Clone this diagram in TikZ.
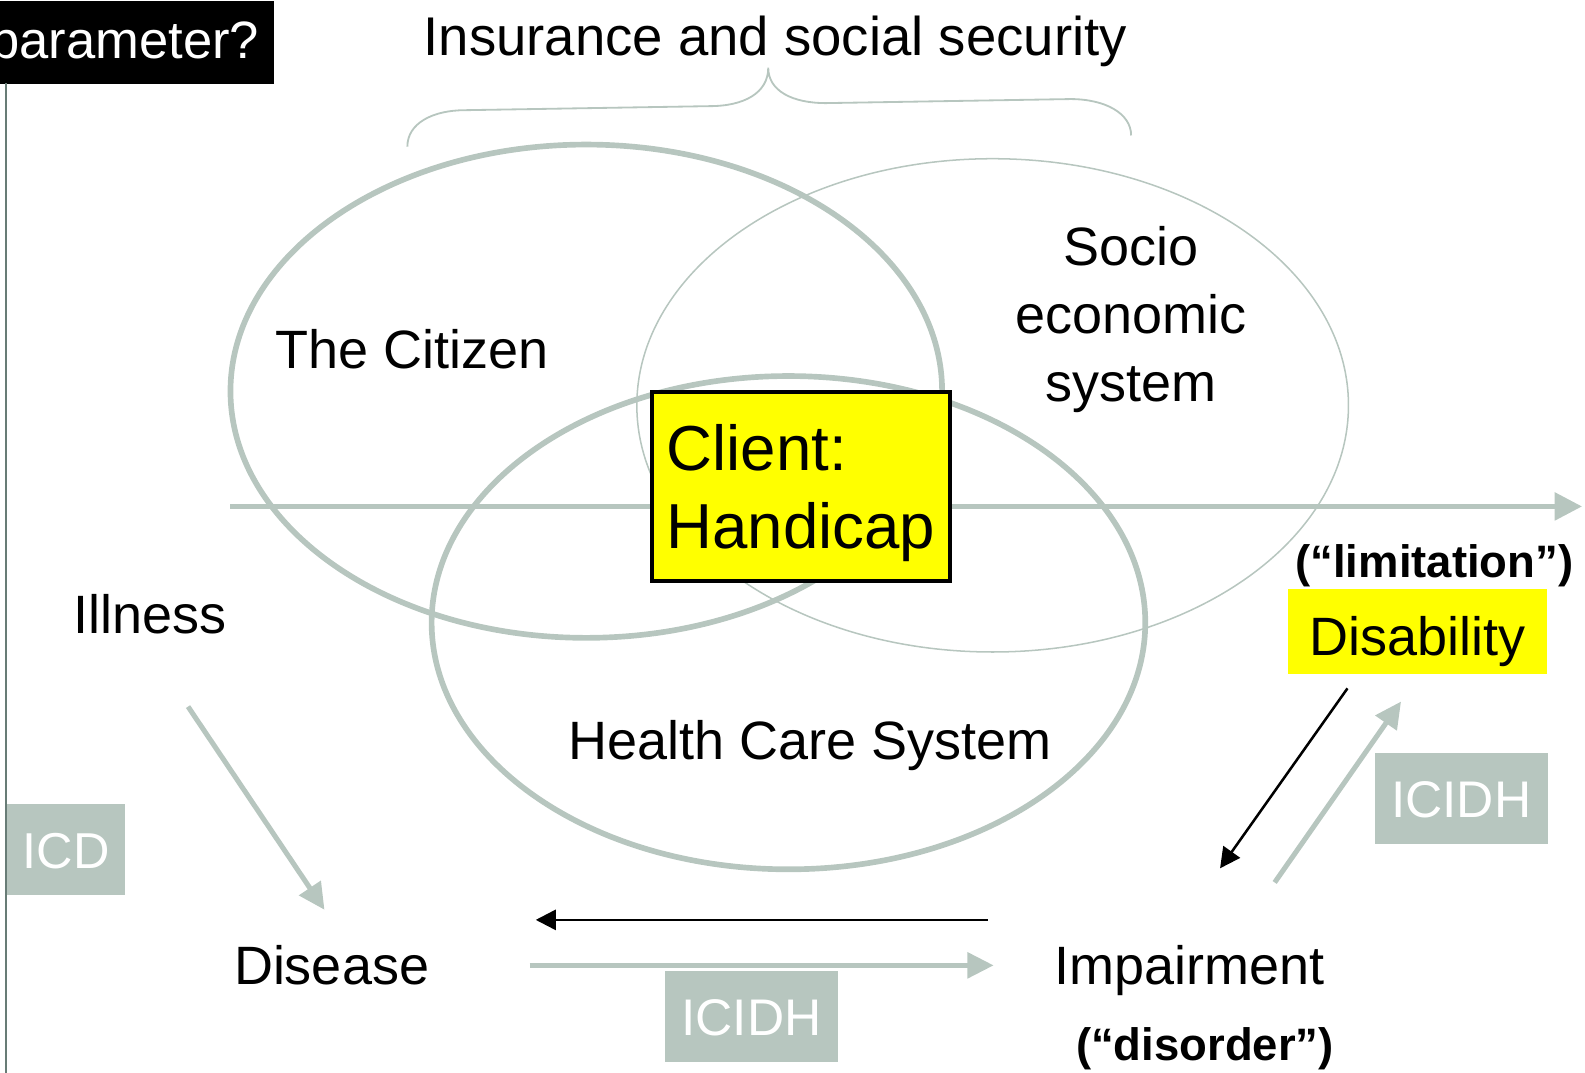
\documentclass[tikz,border=0pt]{standalone}
\usepackage{fontspec}                 % polices système
\setmainfont{Liberation Sans}
\usetikzlibrary{arrows.meta}          % pointes de flèches
\definecolor{sauge}{RGB}{183,198,191}
\definecolor{rail}{RGB}{104,124,118}
\definecolor{jaune}{RGB}{255,255,0}

\tikzset{
  txt/.style={inner sep=0,font=\fontsize{15.2}{19.2}\selectfont},
  petit/.style={inner sep=0,font=\fontsize{12.8}{15}\selectfont\bfseries},
  tag/.style={fill=sauge,text=white,inner sep=0,minimum height=9mm,text height=3.7mm,text depth=0pt,font=\fontsize{14.5}{17}\selectfont},
  sphere/.style={draw=sauge,line width=0.56mm},
  fleche/.style={draw=sauge,line width=0.5mm,-{Triangle[length=2.6mm,width=2.5mm]}},
  retour/.style={draw=black,line width=0.25mm,-{Triangle[length=2mm,width=2mm]}}
}

\begin{document}
\begin{tikzpicture}[x=0.1mm,y=-0.1mm]
\useasboundingbox (0,0) rectangle (1568,1061);
\draw[sphere] (580,387) ellipse [x radius=35.2mm,y radius=24.4mm];
\draw[draw=sauge,line width=0.15mm] (982,401) ellipse [x radius=35.2mm,y radius=24.4mm];
\draw[sphere] (780,616) ellipse [x radius=35.3mm,y radius=24.4mm];
\coordinate (axe0) at (228,501);
\coordinate (axe1) at (1565,501);
\draw[sauge,line width=0.46mm,-{Triangle[length=2.7mm,width=2.7mm]}] (axe0)--(axe1);
\draw[sauge,line width=0.18mm] (403,145) .. controls (403,122) and (428,109) .. (460,109) -- (702,105) .. controls (736,105) and (760,92) .. (760,67) .. controls (760,90) and (784,102) .. (817,102) -- (1059,98) .. controls (1093,98) and (1119,112) .. (1119,134);
\node[txt,anchor=base,font=\fontsize{15.35}{19.2}\selectfont] (assur) at (767,55) {Insurance and social security};
\node[fill=black,text=white,anchor=north east,inner xsep=1.5mm,inner ysep=0,minimum height=8.2mm,text height=3.8mm,text depth=0.6mm,font=\fontsize{14.8}{17}\selectfont] (param) at (272,0) {parameter?};
\coordinate (railtop) at (6,82);
\coordinate (railbot) at (6,1061);
\draw[rail,line width=0.25mm] (railtop)--(railbot);
\node[txt,anchor=base] (citoyen) at (408,365) {The Citizen};
\node[txt,anchor=north,align=center] (socio) at (1119,223) {Socio\\economic\\system};
\node[txt,anchor=base] (sante) at (801,751) {Health Care System};
\node[draw,line width=0.4mm,fill=jaune,anchor=north west,text width=26.6mm,inner xsep=1.45mm,inner ysep=0,minimum height=18.7mm,text height=4.5mm,text depth=7.7mm,align=left,font=\fontsize{17.9}{21.9}\selectfont] (client) at (643,386) {Client:\\Handicap};
\node[txt,anchor=base] (ill) at (148,627) {Illness};
\node[txt,anchor=base] (dis) at (328,974) {Disease};
\node[txt,anchor=base] (imp) at (1177,974) {Impairment};
\node[petit,anchor=base] (desord) at (1192,1049) {(“disorder”)};
\node[fill=jaune,inner sep=0,minimum width=25.6mm,minimum height=8.4mm,text height=4.6mm,text depth=0pt,font=\fontsize{15.2}{19.2}\selectfont] (disab) at (1402,625) {Disability};
\node[petit,anchor=base] (limit) at (1419,571) {(“limitation”)};
\coordinate (ill-s) at (186,699);
\coordinate (dis-n) at (321,900);
\coordinate (imp-back) at (977,910);
\coordinate (dis-back) at (530,910);
\coordinate (dis-e) at (524,955);
\coordinate (imp-w) at (983,955);
\coordinate (disab-s) at (1333,681);
\coordinate (imp-n) at (1207,859);
\coordinate (imp-ne) at (1261,873);
\coordinate (disab-se) at (1386,694);
\draw[fleche] (ill-s)--(dis-n);
\draw[retour] (imp-back)--(dis-back);
\draw[fleche] (dis-e)--(imp-w);
\draw[retour] (disab-s)--(imp-n);
\draw[fleche] (imp-ne)--(disab-se);
\node[tag,minimum width=11.7mm,font=\fontsize{14.2}{17}\selectfont] (icd) at (65.5,840.5) {ICD};
\node[tag,minimum width=17.1mm] (icidhA) at (1445.5,790) {ICIDH};
\node[tag,minimum width=17.1mm] (icidhB) at (743.5,1005.5) {ICIDH};
\end{tikzpicture}
\end{document}
